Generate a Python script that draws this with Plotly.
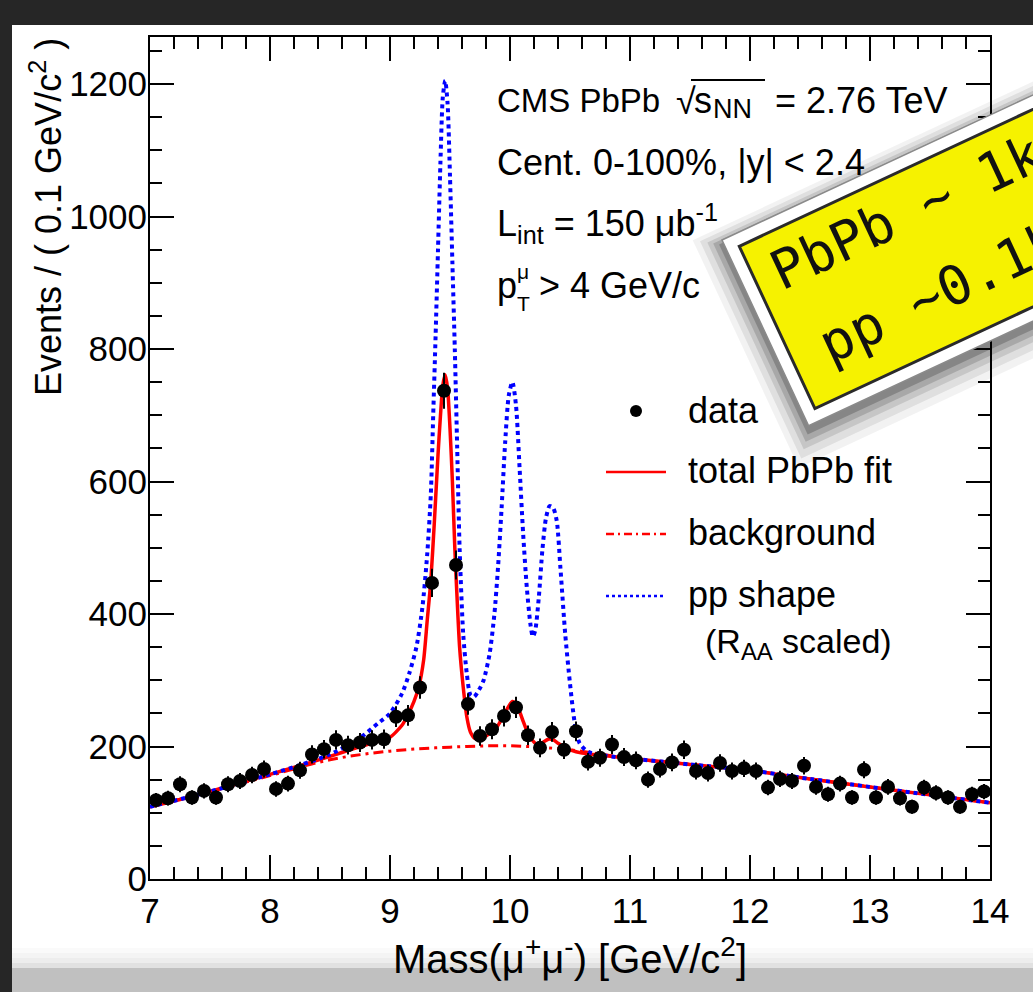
import math
import numpy as np
import plotly.graph_objects as go

# ---------------- data ----------------
mass = [7.05, 7.15, 7.25, 7.35, 7.45, 7.55, 7.65, 7.75, 7.85, 7.95,
        8.05, 8.15, 8.25, 8.35, 8.45, 8.55, 8.65, 8.75, 8.85, 8.95,
        9.05, 9.15, 9.25, 9.35, 9.45, 9.55, 9.65, 9.75, 9.85, 9.95,
        10.05, 10.15, 10.25, 10.35, 10.45, 10.55, 10.65, 10.75, 10.85, 10.95,
        11.05, 11.15, 11.25, 11.35, 11.45, 11.55, 11.65, 11.75, 11.85, 11.95,
        12.05, 12.15, 12.25, 12.35, 12.45, 12.55, 12.65, 12.75, 12.85, 12.95,
        13.05, 13.15, 13.25, 13.35, 13.45, 13.55, 13.65, 13.75, 13.85, 13.95]
counts = [119, 122, 143, 123, 133, 123, 143, 148, 157, 166,
          136, 144, 164, 188, 196, 210, 202, 206, 210, 211,
          245, 247, 289, 447, 737, 474, 264, 216, 226, 246,
          259, 217, 198, 222, 195, 223, 177, 183, 203, 184,
          179, 150, 166, 176, 195, 163, 160, 175, 163, 167,
          163, 138, 151, 148, 171, 139, 128, 144, 123, 165,
          123, 139, 122, 109, 138, 130, 123, 109, 128, 132]

fit_x = [7.0, 7.25, 7.5, 7.75, 8.0, 8.25, 8.5, 8.7, 8.9, 9.0, 9.1, 9.15, 9.2, 9.24,
         9.28, 9.31, 9.34, 9.37, 9.4, 9.42, 9.44, 9.46, 9.48, 9.5, 9.52, 9.54, 9.56,
         9.58, 9.61, 9.64, 9.67, 9.71, 9.76, 9.83, 9.9, 9.94, 9.98, 10.02, 10.05,
         10.08, 10.11, 10.14, 10.18, 10.22, 10.27, 10.32, 10.36, 10.4, 10.45, 10.5,
         10.6, 10.8, 11.0, 11.5, 12.0, 12.5, 13.0, 13.5, 14.0]
fit_y = [109, 120, 132, 145, 158, 171, 185, 197, 208, 214, 232, 248, 268, 290,
         330, 390, 450, 540, 640, 698, 745, 761, 740, 680, 600, 500, 420,
         350, 290, 245, 222, 212, 212, 220, 232, 245, 258, 268, 265,
         253, 238, 224, 211, 204, 206, 211, 210, 205, 199, 195,
         190, 186, 182, 173, 164, 151, 139, 127, 115]

bkg_x = [7.0, 7.5, 8.0, 8.5, 9.0, 9.5, 10.0, 10.5, 11.0, 11.5, 12.0, 12.5, 13.0, 13.5, 14.0]
bkg_y = [109, 132, 156, 180, 193, 199, 201, 195, 182, 173, 164, 151, 139, 127, 115]

pp_x = [7.0, 7.5, 8.0, 8.25, 8.5, 8.75, 8.9, 9.0, 9.1, 9.16, 9.22, 9.27, 9.31, 9.34,
        9.36, 9.38, 9.40, 9.42, 9.44, 9.46, 9.48, 9.50, 9.52, 9.54, 9.56, 9.58, 9.61,
        9.64, 9.67, 9.70, 9.74, 9.78, 9.83, 9.87, 9.90, 9.93, 9.96, 9.99, 10.02,
        10.05, 10.08, 10.11, 10.14, 10.17, 10.19, 10.21, 10.24, 10.27, 10.30, 10.33,
        10.36, 10.39, 10.42, 10.46, 10.50, 10.54, 10.58, 10.65, 10.8, 11.0, 11.5,
        12.0, 12.5, 13.0, 13.5, 14.0]
pp_y = [109, 132, 158, 172, 188, 213, 235, 250, 280, 310, 350, 410, 490, 580,
        700, 820, 950, 1080, 1180, 1205, 1170, 1060, 930, 800, 650, 500, 370,
        310, 278, 275, 285, 300, 340, 400, 470, 560, 660, 730, 750,
        715, 620, 520, 440, 385, 366, 375, 425, 497, 545, 563,
        560, 540, 470, 370, 295, 235, 205, 192, 186, 182, 173,
        164, 151, 139, 127, 115]

x_ticks = [7, 8, 9, 10, 11, 12, 13, 14]
y_ticks = [0, 200, 400, 600, 800, 1000, 1200]

# ---------------- geometry helpers ----------------
W, H = 1033, 992
L, R, T, B = 150, 990, 37, 879
FONT = "Liberation Sans, Arial, Helvetica, sans-serif"


def xp(px):
    return (px - L) / (R - L)


def yp(py):
    return (B - py) / (B - T)


def poly_path(pts):
    return "M " + " L ".join(f"{xp(x):.5f},{yp(y):.5f}" for x, y in pts) + " Z"


def rot_rect(ax, ay, w, h, ang_deg, inset=0.0):
    a = math.radians(ang_deg)
    ux, uy = math.cos(a), -math.sin(a)
    vx, vy = math.sin(a), math.cos(a)
    ax2 = ax + inset * ux + inset * vx
    ay2 = ay + inset * uy + inset * vy
    w2, h2 = w - 2 * inset, h - 2 * inset
    return [(ax2, ay2), (ax2 + w2 * ux, ay2 + w2 * uy),
            (ax2 + w2 * ux + h2 * vx, ay2 + w2 * uy + h2 * vy),
            (ax2 + h2 * vx, ay2 + h2 * vy)]


fig = go.Figure()

fig.add_trace(go.Scatter(x=bkg_x, y=bkg_y, mode="lines", line_shape="spline",
                         line=dict(color="#ff0000", width=3, dash="10px,5px,3px,5px"),
                         showlegend=False, hoverinfo="skip"))
fig.add_trace(go.Scatter(x=fit_x, y=fit_y, mode="lines", line_shape="spline",
                         line=dict(color="#ff0000", width=3.5, smoothing=0.7),
                         showlegend=False, hoverinfo="skip"))
fig.add_trace(go.Scatter(x=pp_x, y=pp_y, mode="lines", line_shape="spline",
                         line=dict(color="#0000ff", width=4, dash="dot", smoothing=0.7),
                         showlegend=False, hoverinfo="skip"))
fig.add_trace(go.Scatter(x=mass, y=counts, mode="markers",
                         marker=dict(size=14, color="black"),
                         error_y=dict(type="data", array=list(np.sqrt(counts)),
                                      color="black", thickness=2, width=0),
                         showlegend=False, hoverinfo="skip"))

shapes = []
# page frame (screenshot borders)
shapes.append(dict(type="rect", xref="paper", yref="paper", x0=xp(0), x1=xp(W), y0=yp(0), y1=yp(25),
                   fillcolor="#262626", line=dict(width=0), layer="below"))
shapes.append(dict(type="rect", xref="paper", yref="paper", x0=xp(0), x1=xp(12), y0=yp(0), y1=yp(H),
                   fillcolor="#262626", line=dict(width=0), layer="below"))
for i, op in enumerate([0.08, 0.16, 0.28, 0.45]):
    shapes.append(dict(type="rect", xref="paper", yref="paper", x0=xp(12), x1=xp(W),
                       y0=yp(948 + 5 * i), y1=yp(953 + 5 * i),
                       fillcolor="#bdbdbd", opacity=op, line=dict(width=0), layer="below"))
shapes.append(dict(type="rect", xref="paper", yref="paper", x0=xp(12), x1=xp(W), y0=yp(968), y1=yp(H),
                   fillcolor="#c0c0c0", line=dict(width=0), layer="below"))

# legend samples
shapes.append(dict(type="circle", xref="paper", yref="paper", x0=xp(630), x1=xp(642),
                   y0=yp(405), y1=yp(417), fillcolor="black", line=dict(width=0)))
shapes.append(dict(type="line", xref="paper", yref="paper", x0=xp(606), x1=xp(666), y0=yp(472), y1=yp(472),
                   line=dict(color="#ff0000", width=2.5)))
shapes.append(dict(type="line", xref="paper", yref="paper", x0=xp(606), x1=xp(666), y0=yp(534), y1=yp(534),
                   line=dict(color="#ff0000", width=2.5, dash="8px,4px,2px,4px")))
shapes.append(dict(type="line", xref="paper", yref="paper", x0=xp(606), x1=xp(666), y0=yp(596), y1=yp(596),
                   line=dict(color="#0000ff", width=2.5, dash="dot")))

# sqrt bar over s_NN
shapes.append(dict(type="line", xref="paper", yref="paper", x0=xp(691), x1=xp(765), y0=yp(80), y1=yp(80),
                   line=dict(color="black", width=2)))

# sticky note
ANG = 25
AX, AY, NW, NH = 722, 240, 560, 205
for k, op in [(20, 0.05), (15, 0.08), (10, 0.11), (6, 0.15), (2, 0.2)]:
    pts = rot_rect(AX - k * 0.8, AY + 5, NW, NH + k * 1.3, ANG, inset=-k * 0.5)
    shapes.append(dict(type="path", xref="paper", yref="paper", path=poly_path(pts),
                       fillcolor="black", opacity=op, line=dict(width=0), layer="above"))
shapes.append(dict(type="path", xref="paper", yref="paper", path=poly_path(rot_rect(AX, AY, NW, NH, ANG)),
                   fillcolor="white", line=dict(color="#8a8a8a", width=1.5), layer="above"))
shapes.append(dict(type="path", xref="paper", yref="paper",
                   path=poly_path(rot_rect(AX, AY, NW, NH, ANG, inset=13)),
                   fillcolor="#f6f200", line=dict(color="#2a2a2a", width=3), layer="above"))

annotations = []


def txt(s, px, py, size=36, xanchor="left", yanchor="middle", family=FONT, color="black"):
    annotations.append(dict(text=s, x=xp(px), y=yp(py), xref="paper", yref="paper",
                            xanchor=xanchor, yanchor=yanchor, showarrow=False,
                            font=dict(family=family, size=size, color=color)))


# CMS texts
txt("CMS PbPb", 495, 100, size=33)
txt("\u221a", 674, 101, size=36)
txt("s", 692, 100, size=36)
txt("NN", 711, 109, size=27)
txt("= 2.76 TeV", 773, 100, size=36)
txt("Cent. 0-100%, |y| &lt; 2.4", 495, 162)
txt("L<sub>int</sub> = 150 \u03bcb<sup>-1</sup>", 495, 224)
txt("p", 495, 285)
txt("\u03bc", 515, 271, size=21)
txt("T", 515, 304, size=21)
txt("&gt; 4 GeV/c", 537, 285)

# legend texts
txt("data", 686, 410)
txt("total PbPb fit", 686, 470)
txt("background", 686, 532)
txt("pp shape", 686, 594)
txt("(R<sub>AA</sub> scaled)", 703, 643, size=34)

# y axis title
annotations.append(dict(text="Events / ( 0.1 GeV/c<sup>2</sup> )", x=xp(46), y=yp(36),
                        xref="paper", yref="paper", xanchor="center", yanchor="top",
                        textangle=-90, showarrow=False, font=dict(family=FONT, size=36, color="black")))

# note texts
NOTE_FONT = "DejaVu Sans Mono, monospace"
annotations.append(dict(text="PbPb ~ 1k", x=xp(906), y=yp(212), xref="paper", yref="paper",
                        xanchor="center", yanchor="middle", textangle=-ANG, showarrow=False,
                        font=dict(family=NOTE_FONT, size=54, color="#111111")))
annotations.append(dict(text="pp ~0.1k", x=xp(940), y=yp(292), xref="paper", yref="paper",
                        xanchor="center", yanchor="middle", textangle=-ANG, showarrow=False,
                        font=dict(family=NOTE_FONT, size=54, color="#111111")))

axis_common = dict(showline=True, linecolor="black", linewidth=2, mirror="ticks",
                   ticks="inside", ticklen=24, tickwidth=1.5, tickcolor="black",
                   showgrid=False, zeroline=False,
                   tickfont=dict(family=FONT, size=35, color="black"))

fig.update_layout(
    width=W, height=H,
    margin=dict(l=L, r=W - R, t=T, b=H - B, pad=0),
    paper_bgcolor="white", plot_bgcolor="white",
    showlegend=False,
    shapes=shapes, annotations=annotations,
    xaxis=dict(range=[7, 14], tickmode="array", tickvals=x_ticks, ticktext=[str(v) for v in x_ticks],
               minor=dict(dtick=0.2, tick0=7, ticks="inside", ticklen=12, tickwidth=1.5, tickcolor="black"),
               title=dict(text="Mass(\u03bc<sup>+</sup>\u03bc<sup>-</sup>) [GeV/c<sup>2</sup>]",
                          font=dict(family=FONT, size=40, color="black"), standoff=16),
               **axis_common),
    yaxis=dict(range=[0, 1271], tickmode="array", tickvals=y_ticks, ticktext=[str(v) for v in y_ticks],
               minor=dict(dtick=50, tick0=0, ticks="inside", ticklen=12, tickwidth=1.5, tickcolor="black"),
               ticklabelstandoff=-6,
               **axis_common),
)

fig.write_html("out.html")
